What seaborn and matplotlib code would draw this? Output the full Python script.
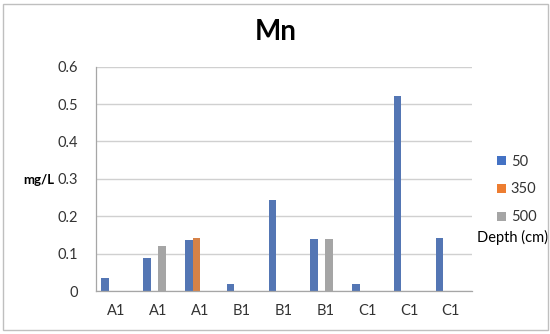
import matplotlib
matplotlib.use("Agg")
import matplotlib.pyplot as plt
from matplotlib.patches import Patch, Rectangle
import numpy as np
import pandas as pd
import seaborn as sns

# ---- data ----
categories = ["A1", "A1", "A1", "B1", "B1", "B1", "C1", "C1", "C1"]
series_names = ["50", "350", "500"]
depth_50 = [0.035, 0.088, 0.137, 0.019, 0.243, 0.140, 0.019, 0.522, 0.141]
depth_350 = [np.nan, np.nan, 0.141, np.nan, np.nan, np.nan, np.nan, np.nan, np.nan]
depth_500 = [np.nan, 0.120, np.nan, np.nan, np.nan, 0.139, np.nan, np.nan, np.nan]
legend_title = "Depth (cm)"
title = "Mn"
ylabel = "mg/L"
yticks = [0, 0.1, 0.2, 0.3, 0.4, 0.5, 0.6]
ytick_labels = ["0", "0.1", "0.2", "0.3", "0.4", "0.5", "0.6"]

colors = {"50": "#4472C4", "350": "#ED7D31", "500": "#A5A5A5", legend_title: "#FFFFFF"}

rows = []
for name, vals in zip(series_names, [depth_50, depth_350, depth_500]):
    for i, v in enumerate(vals):
        rows.append({"pos": i, "value": v, "depth": name})
# empty fourth series (Excel's "Depth (cm)" placeholder series)
for i in range(len(categories)):
    rows.append({"pos": i, "value": 0.0, "depth": legend_title})
df = pd.DataFrame(rows)

sns.set_theme(style="white")
plt.rcParams["font.family"] = ["Lato", "DejaVu Sans"]

fig = plt.figure(figsize=(5.5, 3.34), dpi=100)
ax = fig.add_axes([0.174, 0.1287, 0.6837, 0.6716])

sns.barplot(data=df, x="pos", y="value", hue="depth",
            hue_order=series_names + [legend_title], palette=colors,
            width=0.727, dodge=True, linewidth=0, errorbar=None,
            legend=False, ax=ax, order=list(range(len(categories))))

ax.set_ylim(0, 0.6)
ax.set_xlim(-0.5, len(categories) - 0.5)
ax.set_yticks(yticks)
ax.set_yticklabels(ytick_labels, fontsize=10.5, color="#333333")
ax.set_xticks(range(len(categories)))
ax.set_xticklabels(categories, fontsize=10.5, color="#333333")
ax.set_xticks(np.arange(-0.5, len(categories), 1.0), minor=True)
ax.tick_params(axis="x", which="major", length=0, pad=9)
ax.tick_params(axis="x", which="minor", length=5, color="#A6A6A6", width=0.8, direction="out")
ax.tick_params(axis="y", which="major", length=5, color="#A6A6A6", width=0.8, direction="out", pad=8)
ax.yaxis.grid(True, color="#D0D0D0", linewidth=1.0)
ax.set_axisbelow(True)
for s in ["top", "right"]:
    ax.spines[s].set_visible(False)
for s in ["left", "bottom"]:
    ax.spines[s].set_color("#A6A6A6")
    ax.spines[s].set_linewidth(0.9)
ax.set_xlabel("")
ax.set_ylabel("")

fig.text(39 / 550, 1 - 180 / 334, ylabel, fontsize=9.5, fontweight="bold",
         ha="center", va="center", color="#000000")
fig.text(276 / 550, 1 - 32 / 334, title, fontsize=20, fontweight="bold",
         ha="center", va="center", color="#000000")

handles = [Patch(facecolor=colors[n], edgecolor="none") for n in series_names]
fig.legend(handles, series_names, loc="center left",
           bbox_to_anchor=(497 / 550, 1 - 189.5 / 334), frameon=False,
           fontsize=10.5, handlelength=0.6, handleheight=0.6,
           handletextpad=0.35, labelspacing=0.95, borderpad=0, borderaxespad=0,
           labelcolor="#333333")
fig.text(548 / 550, 1 - 237 / 334, legend_title, fontsize=10.5,
         ha="right", va="center", color="#000000")

fig.patches.append(Rectangle((3 / 550, 4 / 334), 545 / 550, 326 / 334,
                             transform=fig.transFigure, fill=False,
                             edgecolor="#BFBFBF", linewidth=1.0))

fig.savefig("out.png", dpi=100)
